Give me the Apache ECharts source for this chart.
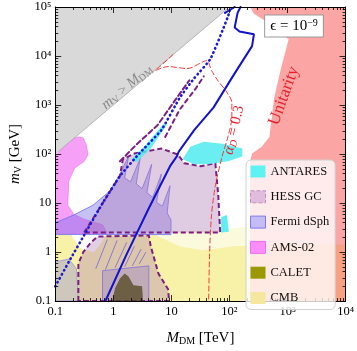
<!DOCTYPE html>
<html><head><meta charset="utf-8">
<script src="https://cdn.jsdelivr.net/npm/echarts@6/dist/echarts.min.js"></script>
<style>html,body{margin:0;padding:0;background:#fff}#c{width:357px;height:351px}</style>
</head><body><div id="c"></div>
<script>
// ---------- data: M_DM in TeV (x), m_V in GeV (y) ----------
const kinM = [0.1, 100, 0.1];
const kinV = [100, 100000, 100000];

const unitM = [227, 264, 387, 934, 1047, 771, 590, 487, 359, 245, 227, 227, 10000, 10000];
const unitV = [100000, 72500, 55100, 24100, 22000, 5550, 1400, 223, 141, 102, 70.9, 0.1, 0.1, 100000];

const cmbM = [0.1, 0.184, 0.215, 0.292, 0.462, 0.627, 0.731, 5.34, 7.83, 13.9, 36.1, 114, 359, 10000, 10000, 0.1];
const cmbV = [2.38, 2.38, 1.72, 1.14, 0.993, 1.57, 2.27, 2.27, 1.80, 1.31, 1.09, 1.31, 1.43, 1.43, 0.1, 0.1];
const cmbFaintM = [5.34, 69.3, 167, 227, 227, 114, 36.1, 13.9, 7.83];
const cmbFaintV = [2.6, 2.8, 3.2, 3.2, 1.43, 1.31, 1.09, 1.31, 1.80];

const amsM = [0.1, 0.141, 0.191, 0.25, 0.303, 0.340, 0.367, 0.315, 0.215, 0.171, 0.164, 0.207, 0.303, 0.652, 0.789, 0.1];
const amsV = [89.2, 141, 204, 223, 213, 155, 97.8, 70.9, 51.4, 28.3, 8.99, 5.95, 4.73, 3.59, 2.38, 2.38];

const fermiUpM = [0.1, 0.1, 0.207, 0.444, 0.852, 1.25, 1.83, 1.57, 1.98, 2.90, 2.49, 3.13, 4.58, 3.79, 4.76, 6.72, 5.55, 6.98, 9.48, 8.45, 9.85, 9.85];
const fermiUpV = [2.27, 3.94, 5.68, 8.99, 17.1, 35.6, 89.2, 32.5, 27.0, 81.4, 24.7, 19.6, 61.8, 16.3, 13.0, 39.1, 10.3, 8.59, 22.5, 6.23, 4.52, 2.27];
const fermiLeftM = [0.1, 0.1, 0.171, 0.232, 0.25];
const fermiLeftV = [0.1, 0.628, 0.720, 0.455, 0.1];
const fermiLowM = [0.652, 0.652, 4.09, 4.09];
const fermiLowV = [0.1, 0.415, 0.522, 0.1];
const fermiHatchM1 = [0.499, 0.731, 1.07, 1.57, 2.13, 2.79];
const fermiHatchV1 = [0.455, 0.435, 0.477, 0.499, 0.522, 0.573];
const fermiHatchM2 = [0.789, 1.16, 1.70, 2.30, 3.01, 3.64];
const fermiHatchV2 = [1.80, 1.72, 1.57, 1.31, 1.14, 0.993];

const hessUpM = [0.315, 0.652, 1.30, 1.46, 2.30, 6.72, 12.9, 16.8, 32.2, 57.2, 64.2, 69.3];
const hessUpV = [2.49, 9.86, 35.6, 77.8, 102, 129, 97.8, 64.7, 56.4, 64.7, 14.2, 2.49];
const hessLowM = [0.25, 0.25, 0.303, 0.412, 0.538, 4.09, 4.41, 5.99, 8.78, 9.12];
const hessLowV = [0.1, 0.573, 0.993, 1.57, 2.07, 2.17, 1.31, 0.362, 0.174, 0.1];
const hessLineAM = [1.30, 2.49, 5.77, 12.4, 20.4];
const hessLineAV = [70.9, 155, 387, 1400, 3200];
const hessLineBM = [7.83, 13.9, 26.6, 36.1];
const hessLineBV = [223, 807, 2220, 3850];

const caletM = [0.955, 1.07, 1.30, 1.57, 1.83, 2.22, 3.13, 3.25];
const caletV = [0.1, 0.182, 0.288, 0.362, 0.315, 0.209, 0.199, 0.1];

const antAM = [15.6, 21.2, 36.1, 77.7, 167, 167, 94.0, 43.8, 24.7];
const antAV = [77.8, 141, 178, 162, 129, 89.2, 70.9, 61.8, 61.8];
const antBM = [2.05, 3.64, 7.25, 8.45, 4.41, 2.49];
const antBV = [77.8, 155, 406, 406, 129, 67.8];
const antCM = [71.9, 90.6, 97.7, 71.9];
const antCV = [5.18, 5.68, 2.60, 2.49];

const solidM = [0.731, 1.70, 4.09, 9.48, 12.4, 13.4, 24.7, 53.0, 123, 245, 264, 149, 123, 138, 155];
const solidV = [0.1, 0.906, 7.83, 56.4, 89.2, 112, 308, 885, 4420, 15900, 27700, 31700, 38100, 75900, 100000];
const solid2M = [83.9, 123];
const solid2V = [75900, 100000];

const dotM = [0.1, 0.171, 0.340, 0.652, 1.30, 2.79, 6.72, 13.9, 24.7, 47.2, 94.0, 105];
const dotV = [0.199, 0.628, 2.60, 9.86, 35.6, 102, 308, 1400, 3510, 8780, 63200, 100000];

const alphaM = [10.6, 5.34, 8.78, 18.9, 40.5, 49.1, 64.2, 87.1, 110, 110, 94.0, 74.8, 57.2, 49.1, 45.5, 43.8];
const alphaV = [10600, 5060, 6080, 5550, 8010, 5060, 3060, 1930, 1115, 560, 223, 89.2, 22.5, 5.68, 0.906, 0.1];

const xTickLabels = ['0.1', '1', '10', '10²', '10³', '10⁴'];
const yTickLabels = ['0.1', '1', '10', '10²', '10³', '10⁴', '10⁵'];
const minorMult = [2, 3, 4, 5, 6, 7, 8, 9];
const xDecades = [0.1, 1, 10, 100, 1000];
const yDecades = [0.1, 1, 10, 100, 1000, 10000];
const legendNames = ['ANTARES', 'HESS GC', 'Fermi dSph', 'AMS-02', 'CALET', 'CMB'];

// ---------- helpers ----------
const SERIF = "'Liberation Serif', 'DejaVu Serif', serif";
function zip(a, b) { return a.map((v, i) => [v, b[i]]); }
function region(name, xs, ys, fill, stroke, lw, dash, z) {
  return {
    type: 'custom', name: name, coordinateSystem: 'cartesian2d', clip: true, silent: true, z: z,
    itemStyle: { color: fill },
    data: [[xs[0], ys[0]]],
    renderItem: function (params, api) {
      const pts = xs.map((x, i) => api.coord([x, ys[i]]));
      return { type: 'polygon', shape: { points: pts },
        style: { fill: fill, stroke: stroke || null, lineWidth: lw || 0, lineDash: dash || null } };
    }
  };
}
function line(xs, ys, color, width, type, z, smooth) {
  return { type: 'line', data: zip(xs, ys), symbol: 'none', silent: true, z: z, smooth: smooth || 0,
    lineStyle: { color: color, width: width, type: type || 'solid', cap: 'round' } };
}
function segs(x1, y1, x2, y2, color, z) {
  return { type: 'custom', coordinateSystem: 'cartesian2d', clip: true, silent: true, z: z,
    data: x1.map((v, i) => [v, y1[i], x2[i], y2[i]]),
    renderItem: function (params, api) {
      const a = api.coord([api.value(0), api.value(1)]);
      const b = api.coord([api.value(2), api.value(3)]);
      return { type: 'line', shape: { x1: a[0], y1: a[1], x2: b[0], y2: b[1] }, style: { stroke: color, lineWidth: 1 } };
    } };
}
const xMinor = [], yMinor = [];
xDecades.forEach(d => minorMult.forEach(m => xMinor.push(+(d * m).toPrecision(3))));
yDecades.forEach(d => minorMult.forEach(m => yMinor.push(+(d * m).toPrecision(3))));

function minorTicks(vals, isX) {
  return { type: 'custom', coordinateSystem: 'cartesian2d', silent: true, z: 20, clip: false,
    data: vals.map(v => isX ? [v, 1] : [1, v]),
    renderItem: function (params, api) {
      const cs = params.coordSys;
      const p = api.coord([api.value(0), api.value(1)]);
      const st = { stroke: '#000', lineWidth: 0.8 };
      if (isX) {
        const x = Math.round(p[0]) + 0.5;
        return { type: 'group', children: [
          { type: 'line', shape: { x1: x, y1: cs.y + cs.height, x2: x, y2: cs.y + cs.height - 3 }, style: st },
          { type: 'line', shape: { x1: x, y1: cs.y, x2: x, y2: cs.y + 3 }, style: st }] };
      }
      const y = Math.round(p[1]) + 0.5;
      return { type: 'group', children: [
        { type: 'line', shape: { x1: cs.x, y1: y, x2: cs.x + 3, y2: y }, style: st },
        { type: 'line', shape: { x1: cs.x + cs.width, y1: y, x2: cs.x + cs.width - 3, y2: y }, style: st }] };
    } };
}

const axisCommon = {
  type: 'log', logBase: 10, splitNumber: 6, z: 25,
  axisLine: { show: true, onZero: false, lineStyle: { color: '#000', width: 1 } },
  axisTick: { show: true, inside: true, length: 6, lineStyle: { color: '#000', width: 0.8 } },
  splitLine: { show: false }
};
const richName = {
  i: { fontFamily: SERIF, fontStyle: 'italic', fontSize: 15, color: '#000' },
  s: { fontFamily: SERIF, fontSize: 10, color: '#000', verticalAlign: 'bottom', padding: [6, 0, 0, 0] },
  n: { fontFamily: SERIF, fontSize: 15, color: '#000' }
};

const chart = echarts.init(document.getElementById('c'), null, { renderer: 'canvas' });
chart.setOption({
  animation: false,
  backgroundColor: '#fff',
  grid: { left: 46, right: 10, top: 7, bottom: 43, containLabel: false },
  xAxis: [
    Object.assign({}, axisCommon, {
      min: 0.1, max: 10000, position: 'bottom',
      axisLabel: { margin: 4, fontFamily: SERIF, fontSize: 12.5, color: '#000',
        formatter: v => xTickLabels[Math.round(Math.log10(v)) + 1] },
      name: '{i|M}{s|DM}{n| [TeV]}', nameLocation: 'middle', nameGap: 29,
      nameTextStyle: { rich: richName }
    }),
    Object.assign({}, axisCommon, { min: 0.1, max: 10000, position: 'top', axisLabel: { show: false } })
  ],
  yAxis: [
    Object.assign({}, axisCommon, {
      min: 0.1, max: 100000, position: 'left',
      axisLabel: { margin: 4, fontFamily: SERIF, fontSize: 12.5, color: '#000',
        formatter: v => yTickLabels[Math.round(Math.log10(v)) + 1] },
      name: '{i|m}{s|V}{n| [GeV]}', nameLocation: 'middle', nameGap: 30,
      nameTextStyle: { rich: richName }
    }),
    Object.assign({}, axisCommon, { min: 0.1, max: 100000, position: 'right', axisLabel: { show: false } })
  ],
  legend: {
    left: 246, top: 160, orient: 'vertical', selectedMode: false, z: 60,
    itemWidth: 15, itemHeight: 12, itemGap: 12.3, icon: 'rect',
    padding: [5, 6, 5, 4],
    backgroundColor: 'rgba(255,255,255,0.78)', borderColor: '#cfcfcf', borderWidth: 1, borderRadius: 5,
    textStyle: { fontFamily: SERIF, fontSize: 12.5, color: '#111' },
    data: [
      { name: legendNames[0], itemStyle: { color: '#5ff2f2' } },
      { name: legendNames[1], itemStyle: { color: '#e2bcdc', borderColor: '#c48cc4', borderWidth: 1, borderType: 'dashed' } },
      { name: legendNames[2], itemStyle: { color: '#c4bcf2', borderColor: '#7c7cf0', borderWidth: 1 } },
      { name: legendNames[3], itemStyle: { color: '#fb8cfb', borderColor: '#f070f0', borderWidth: 1 } },
      { name: legendNames[4], itemStyle: { color: '#9b9800' } },
      { name: legendNames[5], itemStyle: { color: '#f5e6a0' } }
    ]
  },
  series: [
    region('CMB', cmbM, cmbV, 'rgba(245,238,140,0.75)', null, 0, null, 1),
    region('CMB', cmbFaintM, cmbFaintV, 'rgba(245,238,140,0.3)', null, 0, null, 1),
    region('AMS-02', amsM, amsV, '#f7a0f7', '#f080f0', 0.8, null, 2),
    region('Fermi dSph', fermiUpM, fermiUpV, 'rgba(110,100,230,0.4)', '#7070f0', 0.8, null, 3),
    region('Fermi dSph', fermiLeftM, fermiLeftV, 'rgba(110,100,230,0.3)', '#8080f0', 0.6, null, 3),
    region('Fermi dSph', fermiLowM, fermiLowV, 'rgba(110,100,230,0.3)', '#7070f0', 0.8, null, 3),
    segs(fermiHatchM1, fermiHatchV1, fermiHatchM2, fermiHatchV2, 'rgba(90,90,235,0.8)', 3),
    region('HESS GC', hessUpM, hessUpV, 'rgba(170,120,180,0.38)', '#7a1f80', 2, [5, 3], 4),
    region('HESS GC', hessLowM, hessLowV, 'rgba(170,120,180,0.35)', '#7a1f80', 2, [5, 3], 4),
    line(hessLineAM, hessLineAV, '#7a1f80', 2, [5, 3], 4),
    line(hessLineBM, hessLineBV, '#7a1f80', 2, [4, 4], 4),
    region('CALET', caletM, caletV, 'rgba(80,70,30,0.75)', null, 0, null, 5),
    region('ANTARES', antAM, antAV, 'rgba(80,235,240,0.85)', null, 0, null, 5),
    region('ANTARES', antBM, antBV, 'rgba(80,235,240,0.85)', null, 0, null, 5),
    region('ANTARES', antCM, antCV, 'rgba(80,235,240,0.9)', null, 0, null, 5),
    region('', kinM, kinV, '#d9d9d9', '#a8a8a8', 0.8, null, 2),
    region('', unitM, unitV, 'rgba(250,105,105,0.6)', null, 0, null, 6),
    line(solidM, solidV, '#1212c8', 2, 'solid', 7, 0),
    line(solid2M, solid2V, '#1212c8', 2, 'solid', 7),
    line(dotM, dotV, '#1a1ad0', 2.6, [0.5, 4], 7, 0.15),
    line(alphaM, alphaV, '#f03a3a', 1, [5, 3], 7, 0.3),
    minorTicks(xMinor, true),
    minorTicks(yMinor, false)
  ],
  graphic: [
    { type: 'text', x: 127, y: 87, rotation: 40 * Math.PI / 180, z: 100,
      style: { text: '{i|m}{s|V} > {i|M}{s|DM}', align: 'center', verticalAlign: 'middle', fill: '#8a8a8a',
        font: "14px 'Liberation Serif', serif",
        rich: { i: { fontStyle: 'italic', fontSize: 15, fontFamily: SERIF, fill: '#8a8a8a' },
                s: { fontSize: 10, fontFamily: SERIF, fill: '#8a8a8a', verticalAlign: 'bottom', padding: [6, 0, 0, 0] } } } },
    { type: 'text', x: 284, y: 96, rotation: 70 * Math.PI / 180, z: 100,
      style: { text: 'Unitarity', align: 'center', verticalAlign: 'middle', fill: '#e8202a',
        font: "17px 'Liberation Serif', serif" } },
    { type: 'text', x: 234, y: 130, rotation: 77 * Math.PI / 180, z: 100,
      style: { text: '{i|α}{s|D}{n| = 0.3}', align: 'center', verticalAlign: 'middle', fill: '#e8202a',
        font: "14px 'Liberation Serif', serif",
        rich: { i: { fontStyle: 'italic', fontSize: 15, fontFamily: SERIF, fill: '#e8202a' },
                s: { fontStyle: 'italic', fontSize: 10, fontFamily: SERIF, fill: '#e8202a', verticalAlign: 'bottom', padding: [6, 0, 0, 0] },
                n: { fontSize: 15, fontFamily: SERIF, fill: '#e8202a' } } } },
    { type: 'text', x: 294, y: 26, z: 100,
      style: { text: '{a|ϵ = 10}{s|−9}', align: 'center', verticalAlign: 'middle', fill: '#000',
        backgroundColor: '#fff', borderColor: '#999', borderWidth: 1, padding: [3, 5, 2, 5],
        font: "15px 'Liberation Serif', serif",
        rich: { a: { fontSize: 15, fontFamily: SERIF, fill: '#000' },
                s: { fontSize: 10, fontFamily: SERIF, fill: '#000', verticalAlign: 'top', padding: [0, 0, 6, 0] } } } }
  ]
});
</script></body></html>
